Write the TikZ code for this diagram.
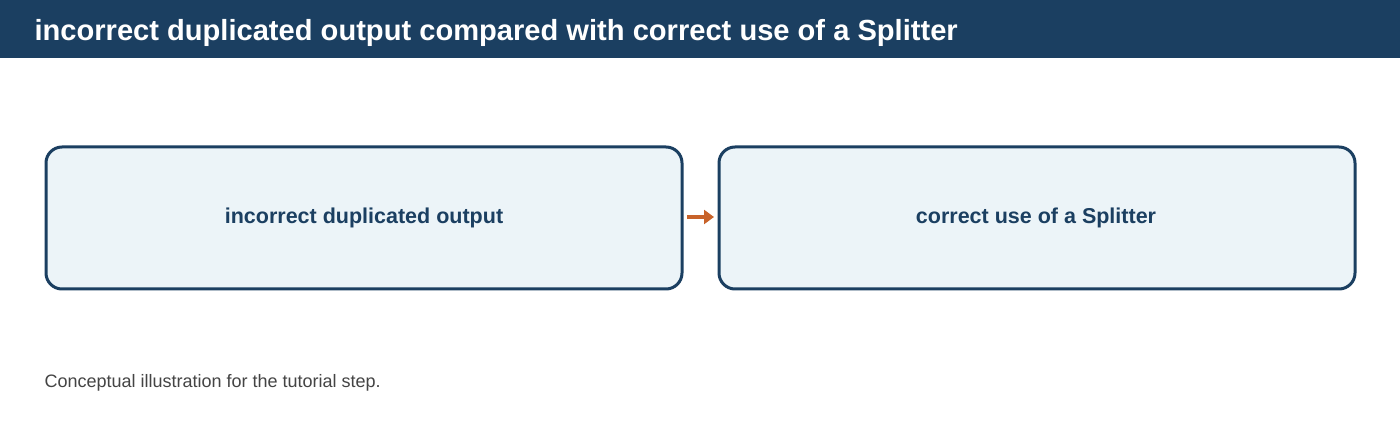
\documentclass[tikz,border=0pt]{standalone}
\usepackage{fontspec}
\setmainfont{Liberation Sans}
\usetikzlibrary{arrows.meta}
\definecolor{navy}{HTML}{1B3F61}
\definecolor{boxfill}{HTML}{ECF4F8}
\definecolor{orng}{HTML}{C8632A}
\definecolor{foot}{HTML}{444444}
\tikzset{
  stage/.style={draw=navy, line width=3pt, fill=boxfill, rounded corners=16pt},
  stagelabel/.style={text=navy, font=\fontsize{21.5}{26}\selectfont\bfseries},
  flow/.style={draw=orng, line width=4pt, -{Triangle[length=10pt,width=14pt]}}
}
\begin{document}
\begin{tikzpicture}[x=1pt,y=-1pt]
\useasboundingbox (0,0) rectangle (1400,430);
\fill[white] (0,0) rectangle (1400,430);
\fill[navy] (0,0) rectangle (1400,58);
\node[anchor=west, text=white, font=\fontsize{29.1}{34}\selectfont\bfseries] (title) at (31,33) {incorrect duplicated output compared with correct use of a Splitter};
\draw[stage] (46,147) rectangle (682,289);
\node[stagelabel] (a) at (364,218) {incorrect duplicated output};
\draw[stage] (719,147) rectangle (1355,289);
\node[stagelabel] (b) at (1036,218) {correct use of a Splitter};
\coordinate (s) at (687,217);
\coordinate (e) at (714,217);
\draw[flow] (s) -- (e);
\node[anchor=west, text=foot, font=\fontsize{18}{21}\selectfont] (note) at (41,383) {Conceptual illustration for the tutorial step.};
\end{tikzpicture}
\end{document}
